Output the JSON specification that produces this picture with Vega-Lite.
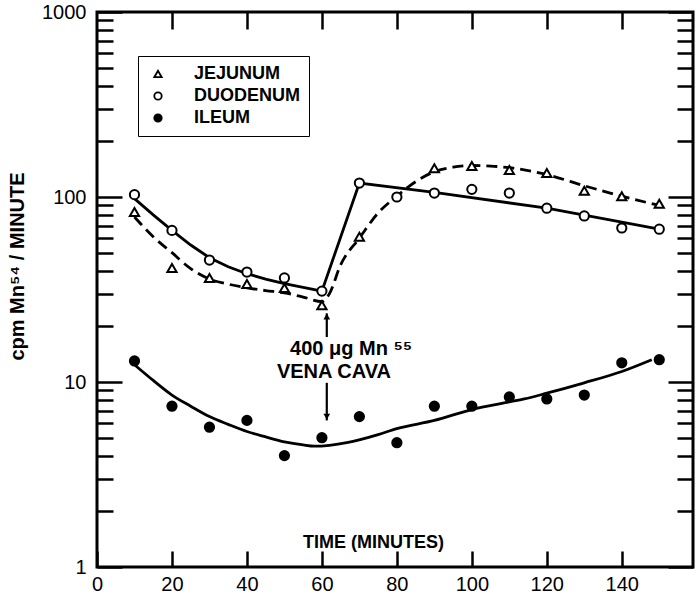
{
  "$schema": "https://vega.github.io/schema/vega-lite/v6.json",
  "width": 596,
  "height": 555,
  "autosize": "none",
  "padding": {"left": 97, "top": 12, "right": 7, "bottom": 28},
  "background": "white",
  "view": {"stroke": "black", "strokeWidth": 3, "fill": "transparent"},
  "config": {"font": "Liberation Sans"},
  "datasets": {
    "points": [
      {"t": 10, "v": 103, "tissue": "DUODENUM"},
      {"t": 20, "v": 66, "tissue": "DUODENUM"},
      {"t": 30, "v": 45.6, "tissue": "DUODENUM"},
      {"t": 40, "v": 39.3, "tissue": "DUODENUM"},
      {"t": 50, "v": 36.5, "tissue": "DUODENUM"},
      {"t": 60, "v": 31, "tissue": "DUODENUM"},
      {"t": 70, "v": 119, "tissue": "DUODENUM"},
      {"t": 80, "v": 100, "tissue": "DUODENUM"},
      {"t": 90, "v": 105, "tissue": "DUODENUM"},
      {"t": 100, "v": 110, "tissue": "DUODENUM"},
      {"t": 110, "v": 105, "tissue": "DUODENUM"},
      {"t": 120, "v": 87, "tissue": "DUODENUM"},
      {"t": 130, "v": 79, "tissue": "DUODENUM"},
      {"t": 140, "v": 68, "tissue": "DUODENUM"},
      {"t": 150, "v": 67, "tissue": "DUODENUM"},
      {"t": 10, "v": 83, "tissue": "JEJUNUM"},
      {"t": 20, "v": 41.3, "tissue": "JEJUNUM"},
      {"t": 30, "v": 36.5, "tissue": "JEJUNUM"},
      {"t": 40, "v": 33.9, "tissue": "JEJUNUM"},
      {"t": 50, "v": 32.2, "tissue": "JEJUNUM"},
      {"t": 60, "v": 26, "tissue": "JEJUNUM"},
      {"t": 70, "v": 61, "tissue": "JEJUNUM"},
      {"t": 90, "v": 143, "tissue": "JEJUNUM"},
      {"t": 100, "v": 147, "tissue": "JEJUNUM"},
      {"t": 110, "v": 140, "tissue": "JEJUNUM"},
      {"t": 120, "v": 135, "tissue": "JEJUNUM"},
      {"t": 130, "v": 108, "tissue": "JEJUNUM"},
      {"t": 140, "v": 101, "tissue": "JEJUNUM"},
      {"t": 150, "v": 92, "tissue": "JEJUNUM"},
      {"t": 10, "v": 13, "tissue": "ILEUM"},
      {"t": 20, "v": 7.4, "tissue": "ILEUM"},
      {"t": 30, "v": 5.7, "tissue": "ILEUM"},
      {"t": 40, "v": 6.2, "tissue": "ILEUM"},
      {"t": 50, "v": 4.0, "tissue": "ILEUM"},
      {"t": 60, "v": 5.0, "tissue": "ILEUM"},
      {"t": 70, "v": 6.5, "tissue": "ILEUM"},
      {"t": 80, "v": 4.7, "tissue": "ILEUM"},
      {"t": 90, "v": 7.4, "tissue": "ILEUM"},
      {"t": 100, "v": 7.4, "tissue": "ILEUM"},
      {"t": 110, "v": 8.3, "tissue": "ILEUM"},
      {"t": 120, "v": 8.1, "tissue": "ILEUM"},
      {"t": 130, "v": 8.5, "tissue": "ILEUM"},
      {"t": 140, "v": 12.7, "tissue": "ILEUM"},
      {"t": 150, "v": 13.2, "tissue": "ILEUM"}
    ],
    "curves": [
      {"t": 10, "v": 98, "curve": "DUODENUM"},
      {"t": 15, "v": 80, "curve": "DUODENUM"},
      {"t": 20, "v": 66, "curve": "DUODENUM"},
      {"t": 25, "v": 55, "curve": "DUODENUM"},
      {"t": 30, "v": 47, "curve": "DUODENUM"},
      {"t": 35, "v": 42, "curve": "DUODENUM"},
      {"t": 40, "v": 38.5, "curve": "DUODENUM"},
      {"t": 45, "v": 36, "curve": "DUODENUM"},
      {"t": 50, "v": 34, "curve": "DUODENUM"},
      {"t": 55, "v": 32.5, "curve": "DUODENUM"},
      {"t": 60, "v": 31, "curve": "DUODENUM"},
      {"t": 70, "v": 119, "curve": "DUODENUM"},
      {"t": 90, "v": 106, "curve": "DUODENUM"},
      {"t": 120, "v": 87, "curve": "DUODENUM"},
      {"t": 150, "v": 67, "curve": "DUODENUM"},
      {"t": 10, "v": 78, "curve": "JEJUNUM"},
      {"t": 15, "v": 61, "curve": "JEJUNUM"},
      {"t": 20, "v": 50, "curve": "JEJUNUM"},
      {"t": 25, "v": 41, "curve": "JEJUNUM"},
      {"t": 30, "v": 36, "curve": "JEJUNUM"},
      {"t": 35, "v": 33.8, "curve": "JEJUNUM"},
      {"t": 40, "v": 32.3, "curve": "JEJUNUM"},
      {"t": 45, "v": 31.2, "curve": "JEJUNUM"},
      {"t": 50, "v": 30.3, "curve": "JEJUNUM"},
      {"t": 55, "v": 28.8, "curve": "JEJUNUM"},
      {"t": 60, "v": 27.2, "curve": "JEJUNUM"},
      {"t": 62, "v": 30, "curve": "JEJUNUM"},
      {"t": 65, "v": 43, "curve": "JEJUNUM"},
      {"t": 70, "v": 60, "curve": "JEJUNUM"},
      {"t": 75, "v": 82, "curve": "JEJUNUM"},
      {"t": 80, "v": 101, "curve": "JEJUNUM"},
      {"t": 85, "v": 121, "curve": "JEJUNUM"},
      {"t": 90, "v": 137, "curve": "JEJUNUM"},
      {"t": 95, "v": 145, "curve": "JEJUNUM"},
      {"t": 100, "v": 148, "curve": "JEJUNUM"},
      {"t": 105, "v": 147, "curve": "JEJUNUM"},
      {"t": 110, "v": 144, "curve": "JEJUNUM"},
      {"t": 120, "v": 132, "curve": "JEJUNUM"},
      {"t": 130, "v": 115, "curve": "JEJUNUM"},
      {"t": 140, "v": 101, "curve": "JEJUNUM"},
      {"t": 150, "v": 90, "curve": "JEJUNUM"},
      {"t": 10, "v": 12.4, "curve": "ILEUM"},
      {"t": 15, "v": 10.2, "curve": "ILEUM"},
      {"t": 20, "v": 8.5, "curve": "ILEUM"},
      {"t": 25, "v": 7.4, "curve": "ILEUM"},
      {"t": 30, "v": 6.5, "curve": "ILEUM"},
      {"t": 35, "v": 5.9, "curve": "ILEUM"},
      {"t": 40, "v": 5.4, "curve": "ILEUM"},
      {"t": 45, "v": 5.05, "curve": "ILEUM"},
      {"t": 50, "v": 4.75, "curve": "ILEUM"},
      {"t": 55, "v": 4.57, "curve": "ILEUM"},
      {"t": 58, "v": 4.5, "curve": "ILEUM"},
      {"t": 62, "v": 4.55, "curve": "ILEUM"},
      {"t": 67, "v": 4.72, "curve": "ILEUM"},
      {"t": 75, "v": 5.2, "curve": "ILEUM"},
      {"t": 80, "v": 5.6, "curve": "ILEUM"},
      {"t": 90, "v": 6.2, "curve": "ILEUM"},
      {"t": 100, "v": 7.1, "curve": "ILEUM"},
      {"t": 110, "v": 7.8, "curve": "ILEUM"},
      {"t": 114, "v": 8.1, "curve": "ILEUM"},
      {"t": 120, "v": 8.7, "curve": "ILEUM"},
      {"t": 130, "v": 9.9, "curve": "ILEUM"},
      {"t": 140, "v": 11.4, "curve": "ILEUM"},
      {"t": 148, "v": 13.2, "curve": "ILEUM"}
    ],
    "arrows": [
      {"t": 61.3, "from": 17.5, "to": 23.5, "dir": "up", "tip": 22.6},
      {"t": 61.3, "from": 9.9, "to": 6.2, "dir": "down", "tip": 6.5}
    ],
    "notes": [
      {"t": 51.5, "v": 15.1, "label": "400 μg Mn ⁵⁵"},
      {"t": 48, "v": 11.3, "label": "VENA CAVA"}
    ]
  },
  "layer": [
    {
      "data": {"name": "curves"},
      "transform": [{"filter": "datum.curve == 'DUODENUM'"}],
      "mark": {"type": "line", "color": "black", "strokeWidth": 2.8},
      "encoding": {
        "x": {"field": "t", "type": "quantitative",
          "scale": {"domain": [0, 159], "nice": false, "zero": false},
          "axis": {"orient": "bottom", "values": [0, 20, 40, 60, 80, 100, 120, 140], "domain": false, "grid": false, "zindex": 2,
            "ticks": true, "tickSize": -16, "tickWidth": 2.5, "tickColor": "black", "tickOpacity": 1,
            "labelPadding": 23, "labelFontSize": 20, "labelFont": "Liberation Sans", "labelColor": "black",
            "labelFlush": false, "labelOverlap": false,
            "title": "TIME (MINUTES)", "titleX": 276, "titleY": -25, "titleAlign": "center", "titleBaseline": "middle",
            "titleFontSize": 18, "titleFont": "Liberation Sans", "titleFontWeight": "bold", "titleColor": "black"}},
        "y": {"field": "v", "type": "quantitative",
          "scale": {"type": "log", "domain": [1, 1000], "nice": false},
          "axis": {"orient": "left", "values": [1, 10, 100, 1000],
            "domain": false, "grid": false, "zindex": 2,
            "ticks": true, "tickSize": -25, "tickWidth": 2.5, "tickColor": "black", "tickOpacity": 1,
            "format": "d",
            "labelPadding": 36, "labelFontSize": 20, "labelFont": "Liberation Sans", "labelColor": "black",
            "labelFlush": false, "labelOverlap": false, "labelBaseline": "middle",
            "title": "cpm Mn⁵⁴ / MINUTE", "titleX": -80, "titleY": 254, "titleAngle": 270,
            "titleAlign": "center", "titleBaseline": "middle",
            "titleFontSize": 20, "titleFont": "Liberation Sans", "titleFontWeight": "bold", "titleColor": "black"}}
      }
    },
    {
      "data": {"name": "curves"},
      "transform": [{"filter": "datum.curve == 'JEJUNUM'"}],
      "mark": {"type": "line", "color": "black", "strokeWidth": 2.8, "strokeDash": [11, 6], "interpolate": "monotone"},
      "encoding": {
        "x": {"field": "t", "type": "quantitative",
          "scale": {"domain": [0, 159], "nice": false, "zero": false},
          "axis": {"orient": "top", "values": [20, 40, 60, 80, 100, 120, 140], "domain": false, "grid": false, "zindex": 2,
            "ticks": true, "tickSize": -17, "tickWidth": 2.5, "tickColor": "black", "tickOpacity": 1,
            "labels": false, "title": null}},
        "y": {"field": "v", "type": "quantitative",
          "scale": {"type": "log", "domain": [1, 1000], "nice": false},
          "axis": {"orient": "right", "values": [1, 10, 100, 1000],
            "domain": false, "grid": false, "zindex": 2,
            "ticks": true, "tickSize": -25, "tickWidth": 2.5, "tickColor": "black", "tickOpacity": 1,
            "labels": false, "title": null}}
      }
    },
    {
      "data": {"name": "curves"},
      "transform": [{"filter": "datum.curve == 'ILEUM'"}],
      "mark": {"type": "line", "color": "black", "strokeWidth": 2.8, "interpolate": "monotone"},
      "encoding": {
        "x": {"field": "t", "type": "quantitative", "scale": {"domain": [0, 159], "nice": false, "zero": false}, "axis": null},
        "y": {"field": "v", "type": "quantitative", "scale": {"type": "log", "domain": [1, 1000], "nice": false},
          "axis": {"orient": "left",
            "values": [2, 3, 4, 5, 6, 7, 8, 9, 20, 30, 40, 50, 60, 70, 80, 90, 200, 300, 400, 500, 600, 700, 800, 900],
            "domain": false, "grid": false, "zindex": 2,
            "ticks": true, "tickSize": -16, "tickWidth": 2.5, "tickColor": "black", "tickOpacity": 1,
            "labels": false, "title": null}}
      }
    },
    {
      "data": {"name": "points"},
      "mark": {"type": "point", "strokeWidth": 2, "size": 85, "opacity": 1},
      "encoding": {
        "x": {"field": "t", "type": "quantitative", "scale": {"domain": [0, 159], "nice": false, "zero": false}, "axis": null},
        "y": {"field": "v", "type": "quantitative", "scale": {"type": "log", "domain": [1, 1000], "nice": false},
          "axis": {"orient": "right",
            "values": [2, 3, 4, 5, 6, 7, 8, 9, 20, 30, 40, 50, 60, 70, 80, 90, 200, 300, 400, 500, 600, 700, 800, 900],
            "domain": false, "grid": false, "zindex": 2,
            "ticks": true, "tickSize": -16, "tickWidth": 2.5, "tickColor": "black", "tickOpacity": 1,
            "labels": false, "title": null}},
        "stroke": {"field": "tissue", "type": "nominal",
          "scale": {"domain": ["JEJUNUM", "DUODENUM", "ILEUM"], "range": ["black", "black", "black"]},
          "legend": {"title": null, "orient": "none", "legendX": 41, "legendY": 44,
            "strokeColor": "black", "padding": 9, "symbolOffset": 2, "labelOffset": 27,
            "labelFontSize": 18, "labelFontWeight": "bold", "labelFont": "Liberation Sans", "labelColor": "black",
            "symbolSize": 55, "symbolStrokeWidth": 1.8, "rowPadding": 4}},
        "shape": {"field": "tissue", "type": "nominal",
          "scale": {"domain": ["JEJUNUM", "DUODENUM", "ILEUM"], "range": ["triangle-up", "circle", "circle"]},
          "legend": {"title": null, "orient": "none", "legendX": 41, "legendY": 44,
            "strokeColor": "black", "padding": 9, "symbolOffset": 2, "labelOffset": 27,
            "labelFontSize": 18, "labelFontWeight": "bold", "labelFont": "Liberation Sans", "labelColor": "black",
            "symbolSize": 55, "symbolStrokeWidth": 1.8, "rowPadding": 4}},
        "fill": {"field": "tissue", "type": "nominal",
          "scale": {"domain": ["JEJUNUM", "DUODENUM", "ILEUM"], "range": ["white", "white", "black"]},
          "legend": {"title": null, "orient": "none", "legendX": 41, "legendY": 44,
            "strokeColor": "black", "padding": 9, "symbolOffset": 2, "labelOffset": 27,
            "labelFontSize": 18, "labelFontWeight": "bold", "labelFont": "Liberation Sans", "labelColor": "black",
            "symbolSize": 55, "symbolStrokeWidth": 1.8, "rowPadding": 4}}
      }
    },
    {
      "data": {"name": "arrows"},
      "mark": {"type": "rule", "color": "black", "strokeWidth": 2.2},
      "encoding": {
        "x": {"field": "t", "type": "quantitative", "scale": {"domain": [0, 159], "nice": false, "zero": false}, "axis": null},
        "y": {"field": "from", "type": "quantitative", "scale": {"type": "log", "domain": [1, 1000], "nice": false}, "axis": null},
        "y2": {"field": "to"}
      }
    },
    {
      "data": {"name": "arrows"},
      "transform": [{"filter": "datum.dir == 'up'"}],
      "mark": {"type": "point", "shape": "triangle-up", "filled": true, "color": "black", "size": 45, "opacity": 1},
      "encoding": {
        "x": {"field": "t", "type": "quantitative", "scale": {"domain": [0, 159], "nice": false, "zero": false}, "axis": null},
        "y": {"field": "tip", "type": "quantitative", "scale": {"type": "log", "domain": [1, 1000], "nice": false}, "axis": null}
      }
    },
    {
      "data": {"name": "arrows"},
      "transform": [{"filter": "datum.dir == 'down'"}],
      "mark": {"type": "point", "shape": "triangle-down", "filled": true, "color": "black", "size": 45, "opacity": 1},
      "encoding": {
        "x": {"field": "t", "type": "quantitative", "scale": {"domain": [0, 159], "nice": false, "zero": false}, "axis": null},
        "y": {"field": "tip", "type": "quantitative", "scale": {"type": "log", "domain": [1, 1000], "nice": false}, "axis": null}
      }
    },
    {
      "data": {"name": "notes"},
      "mark": {"type": "text", "align": "left", "baseline": "middle", "fontSize": 20, "fontWeight": "bold", "font": "Liberation Sans", "color": "black"},
      "encoding": {
        "x": {"field": "t", "type": "quantitative", "scale": {"domain": [0, 159], "nice": false, "zero": false}, "axis": null},
        "y": {"field": "v", "type": "quantitative", "scale": {"type": "log", "domain": [1, 1000], "nice": false}, "axis": null},
        "text": {"field": "label"}
      }
    }
  ],
  "resolve": {"axis": {"x": "independent", "y": "independent"}}
}
